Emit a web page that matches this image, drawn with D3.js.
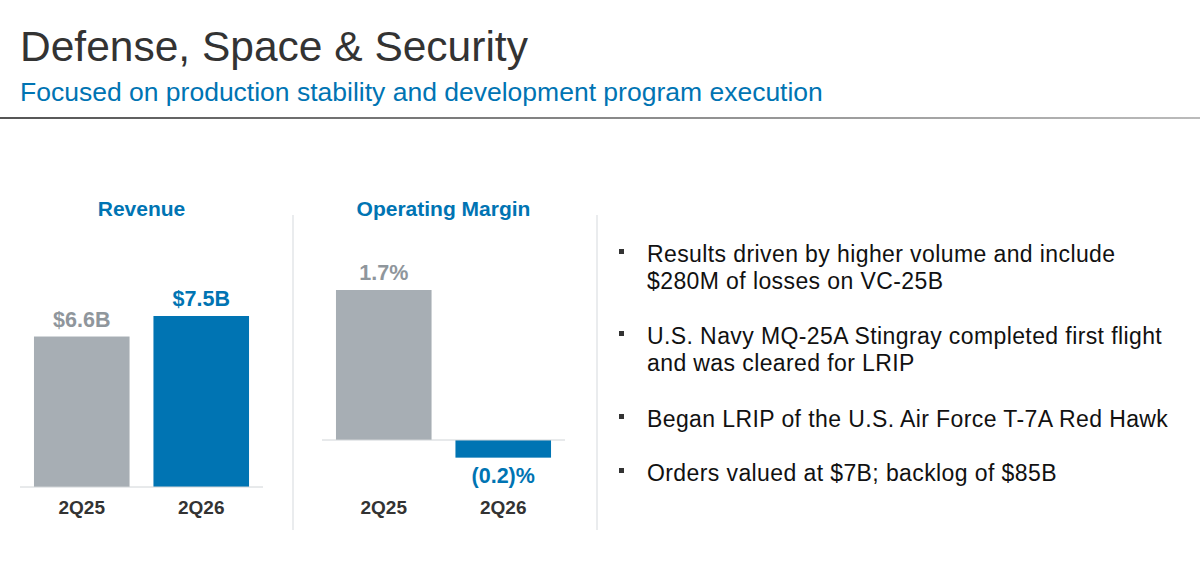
<!DOCTYPE html>
<html><head><meta charset="utf-8">
<script src="https://cdn.jsdelivr.net/npm/d3@7"></script>
<style>body{margin:0;background:#fff;font-family:Arial,"Liberation Sans",sans-serif}</style>
</head><body><svg id="c" width="1200" height="575"></svg>
<script>
const categories = ['2Q25', '2Q26'];
const revenue = [6.6, 7.5];
const revenueLabels = ['$6.6B', '$7.5B'];
const margin = [1.7, -0.2];
const marginLabels = ['1.7%', '(0.2)%'];
const bullets = [
  ['Results driven by higher volume and include', '$280M of losses on VC-25B'],
  ['U.S. Navy MQ-25A Stingray completed first flight', 'and was cleared for LRIP'],
  ['Began LRIP of the U.S. Air Force T-7A Red Hawk'],
  ['Orders valued at $7B; backlog of $85B']
];
const grey = '#a7aeb4', blue = '#0074b3', labelGrey = '#8f969c', dark = '#333';
const svg = d3.select('#c');

svg.append('text').attr('x', 20).attr('y', 61).attr('font-size', 42.5).attr('fill', dark).text('Defense, Space & Security');
svg.append('text').attr('x', 20).attr('y', 101).attr('font-size', 26.5).attr('fill', blue).text('Focused on production stability and development program execution');
const grad = svg.append('defs').append('linearGradient').attr('id', 'g');
grad.append('stop').attr('offset', '0').attr('stop-color', '#555');
grad.append('stop').attr('offset', '1').attr('stop-color', '#bbb');
svg.append('rect').attr('x', 0).attr('y', 117).attr('width', 1200).attr('height', 2).attr('fill', 'url(#g)');

[293, 597].forEach(x => svg.append('line').attr('x1', x).attr('x2', x).attr('y1', 215).attr('y2', 530).attr('stroke', '#e3e6e8').attr('stroke-width', 1.5));

function panel(opts) {
  const g = svg.append('g');
  const x = d3.scaleBand().domain(categories).range(opts.xr).paddingInner(0.2).paddingOuter(0.05);
  const y = d3.scaleLinear().domain(opts.dom).range(opts.yr);
  g.append('text').attr('x', (opts.xr[0] + opts.xr[1]) / 2).attr('y', 216).attr('text-anchor', 'middle')
    .attr('font-size', 21).attr('font-weight', 'bold').attr('fill', blue).text(opts.title);
  g.selectAll('rect.b').data(opts.vals).join('rect')
    .attr('x', (d, i) => x(categories[i])).attr('width', x.bandwidth())
    .attr('y', d => Math.min(y(d), y(0))).attr('height', d => Math.abs(y(d) - y(0)))
    .attr('fill', (d, i) => i ? blue : grey);
  g.append('line').attr('x1', opts.xr[0] - 8).attr('x2', opts.xr[1] + 8).attr('y1', y(0)).attr('y2', y(0)).attr('stroke', '#d0d4d7');
  g.selectAll('text.v').data(opts.vals).join('text')
    .attr('x', (d, i) => x(categories[i]) + x.bandwidth() / 2)
    .attr('y', d => d >= 0 ? y(d) - 10 : y(d) + 25)
    .attr('text-anchor', 'middle').attr('font-size', 21.5).attr('font-weight', 'bold')
    .attr('fill', (d, i) => i ? blue : labelGrey).text((d, i) => opts.labels[i]);
  g.selectAll('text.c').data(categories).join('text')
    .attr('x', d => x(d) + x.bandwidth() / 2).attr('y', 514).attr('text-anchor', 'middle')
    .attr('font-size', 19).attr('font-weight', 'bold').attr('fill', dark).text(d => d);
}
panel({title: 'Revenue', vals: revenue, labels: revenueLabels, xr: [28, 255], dom: [0, 7.5], yr: [487, 316]});
panel({title: 'Operating Margin', vals: margin, labels: marginLabels, xr: [330, 557], dom: [0, 1.7], yr: [440, 290]});

const lineY = [[254, 281], [336, 363], [419], [473]];
bullets.forEach((b, i) => {
  svg.append('rect').attr('x', 619).attr('y', lineY[i][0] - 5).attr('width', 5).attr('height', 5).attr('fill', dark);
  b.forEach((t, j) => svg.append('text').attr('x', 647).attr('y', lineY[i][j] + 8).attr('font-size', 23)
    .attr('letter-spacing', 0.4).attr('fill', '#111').text(t));
});
</script></body></html>
